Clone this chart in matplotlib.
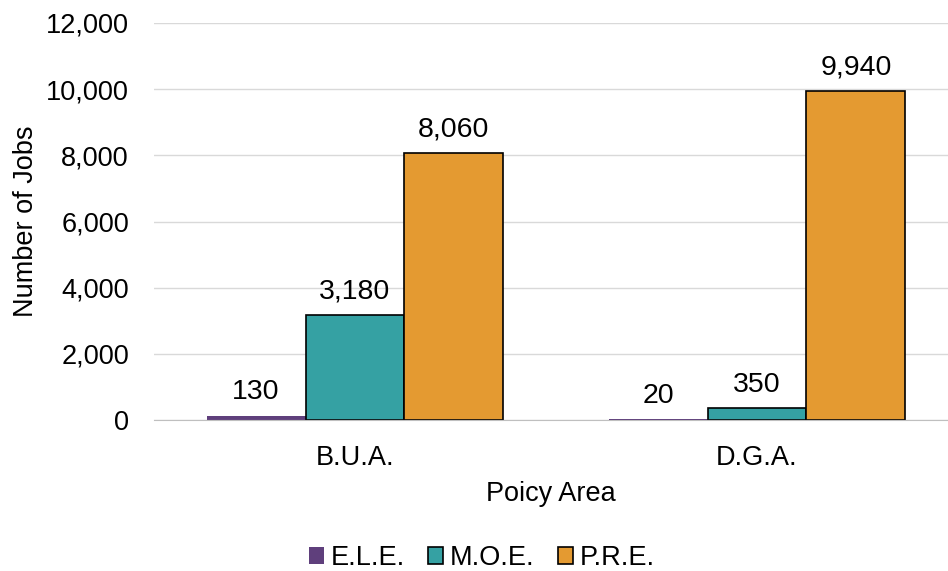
import numpy as np
import matplotlib.pyplot as plt

plt.rcParams['font.family'] = ['Liberation Sans', 'DejaVu Sans']

areas = ['B.U.A.', 'D.G.A.']
series = ['E.L.E.', 'M.O.E.', 'P.R.E.']
ele = [130, 20]
moe = [3180, 350]
pre = [8060, 9940]
colors = ['#5f3f7c', '#35a1a3', '#e49a31']

fs = 19.5
fig = plt.figure(figsize=(9.48, 5.71), dpi=100)
ax = fig.add_axes([154 / 948, 151 / 571, 794 / 948, 397 / 571])

x = np.arange(len(areas))
w = 0.246
for i, (vals, name) in enumerate(zip([ele, moe, pre], series)):
    edge = 'none' if i == 0 else 'black'
    bars = ax.bar(x + (i - 1) * w, vals, w, color=colors[i], edgecolor=edge,
                  linewidth=1.2, label=name, zorder=3)
    for b, v in zip(bars, vals):
        ax.annotate(f'{v:,}', (b.get_x() + b.get_width() / 2, b.get_height()),
                    xytext=(0, 7.5), textcoords='offset points',
                    ha='center', va='bottom', fontsize=20.5)

ax.set_xlim(-0.5, 1.475)
ax.set_ylim(0, 12000)
ax.set_yticks(np.arange(0, 12001, 2000))
ax.yaxis.set_major_formatter(plt.FuncFormatter(lambda v, p: f'{int(v):,}'))
ax.set_xticks(x)
ax.set_xticklabels(areas)
ax.tick_params(length=0, labelsize=fs, pad=18)
ax.grid(axis='y', color='#d9d9d9', linewidth=1, zorder=0)
for s in ['top', 'right', 'left']:
    ax.spines[s].set_visible(False)
ax.spines['bottom'].set_color('#bfbfbf')
ax.spines['bottom'].set_zorder(4)
ax.set_xlabel('Poicy Area', fontsize=fs, labelpad=7)
ax.set_ylabel('Number of Jobs', fontsize=fs, labelpad=5)

fig.legend(loc='center', bbox_to_anchor=(482 / 948, 1 - 558 / 571), ncol=3,
           frameon=False, fontsize=fs, handlelength=0.55, handleheight=0.55,
           handletextpad=0.25, columnspacing=0.85)

fig.savefig('out.png', dpi=100)
